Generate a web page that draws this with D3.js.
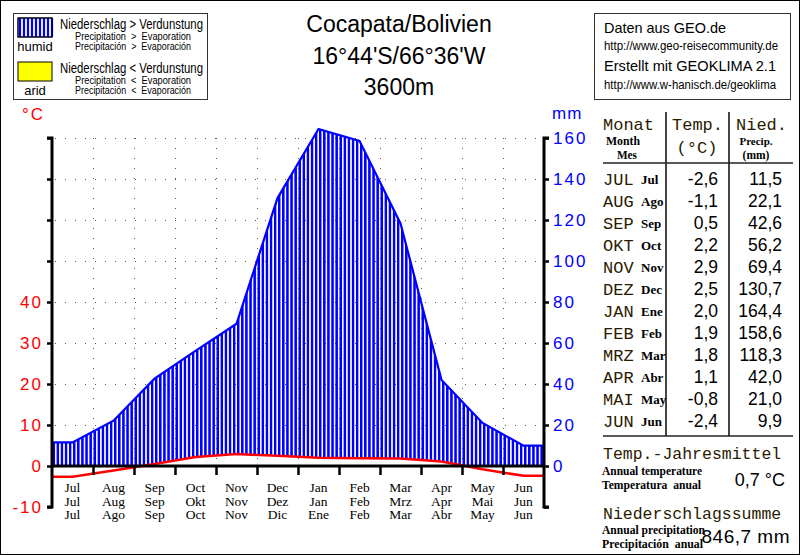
<!DOCTYPE html>
<html><head><meta charset="utf-8">
<script src="https://cdn.jsdelivr.net/npm/d3@7"></script>
<style>body{margin:0;background:#fff}svg{display:block}</style>
</head><body>
<svg id="c" width="800" height="555"></svg>
<script>
// ---- data ----
const monthsEN = ["Jul","Aug","Sep","Oct","Nov","Dec","Jan","Feb","Mar","Apr","May","Jun"];
const monthsDE = ["Jul","Aug","Sep","Okt","Nov","Dez","Jan","Feb","Mrz","Apr","Mai","Jun"];
const monthsES = ["Jul","Ago","Sep","Oct","Nov","Dic","Ene","Feb","Mar","Abr","May","Jun"];
const tableDE = ["JUL","AUG","SEP","OKT","NOV","DEZ","JAN","FEB","MRZ","APR","MAI","JUN"];
const tableES = ["Jul","Ago","Sep","Oct","Nov","Dec","Ene","Feb","Mar","Abr","May","Jun"];
const temperature = [-2.6,-1.1,0.5,2.2,2.9,2.5,2.0,1.9,1.8,1.1,-0.8,-2.4];
const precipitation = [11.5,22.1,42.6,56.2,69.4,130.7,164.4,158.6,118.3,42.0,21.0,9.9];
const tempTicks = [-10,0,10,20,30,40];
const precipTicks = [0,20,40,60,80,100,120,140,160];
const titleLines = ["Cocapata/Bolivien","16°44'S/66°36'W","3600m"];
const annualTemp = "0,7 °C";
const annualPrecip = "846,7 mm";

const fmt = v => v.toFixed(1).replace(".", ",");
const svg = d3.select("#c");
const BLUE = "#0000ff", RED = "#ff0000";
const SANS = "'Liberation Sans', Arial, sans-serif";
const SERIF = "'Liberation Serif', 'Times New Roman', serif";
const MONO = "'Liberation Mono', 'Courier New', monospace";

// outer border
svg.append("rect").attr("x",0.5).attr("y",0.5).attr("width",799).attr("height",554)
  .attr("fill","#fff").attr("stroke","#000");

// scales
const x = d3.scaleLinear().domain([0,12]).range([52,544]);
const yT = d3.scaleLinear().domain([-10,80]).range([507,138]);
const yP = d3.scaleLinear().domain([-20,160]).range([507,138]);

// extended series: left edge, month centres, right edge
const ext = arr => [{i:0,v:arr[0]}].concat(arr.map((v,i)=>({i:i+0.5,v})), [{i:12,v:arr[11]}]);
const tExt = ext(temperature), pExt = ext(precipitation);

// grid
const grid = svg.append("g").attr("stroke","#555").attr("stroke-width",1).attr("stroke-dasharray","1,9");
d3.range(10,81,10).forEach(t=>{
  grid.append("line").attr("x1",x(0)+3).attr("x2",x(12)).attr("y1",yT(t)+0.5).attr("y2",yT(t)+0.5);
});
d3.range(1,12).forEach(m=>{
  grid.append("line").attr("x1",x(m)+0.5).attr("x2",x(m)+0.5).attr("y1",yT(80)).attr("y2",yT(0));
});

// hatch pattern (10 stripes per month)
const period = (x(1)-x(0))/10;
const defs = svg.append("defs");
const pat = defs.append("pattern").attr("id","hatch").attr("patternUnits","userSpaceOnUse")
  .attr("x",x(0)+0.5).attr("y",0).attr("width",period).attr("height",10);
pat.append("rect").attr("x",0).attr("y",0).attr("width",2.5).attr("height",10).attr("fill",BLUE);
defs.append("clipPath").attr("id","above0").append("rect")
  .attr("x",x(0)).attr("y",0).attr("width",x(12)-x(0)).attr("height",yT(0));

const combined = tExt.map((d,k)=>({i:d.i,t:d.v,p:pExt[k].v}));
const area = d3.area().x(d=>x(d.i)).y0(d=>yT(d.t)).y1(d=>yP(d.p));
svg.append("path").datum(combined).attr("d",area).attr("fill","url(#hatch)").attr("clip-path","url(#above0)");

// precipitation line
svg.append("path").datum(pExt).attr("d",d3.line().x(d=>x(d.i)).y(d=>yP(d.v)))
  .attr("fill","none").attr("stroke",BLUE).attr("stroke-width",2.2);
// temperature line
svg.append("path").datum(tExt).attr("d",d3.line().x(d=>x(d.i)).y(d=>yT(d.v)))
  .attr("fill","none").attr("stroke",RED).attr("stroke-width",2.5);

// axes
const leftAx = svg.append("g").attr("transform",`translate(${x(0)},0)`)
  .call(d3.axisLeft(yT).tickValues(d3.range(-10,81,10)).tickSize(5).tickFormat(""));
const rightAx = svg.append("g").attr("transform",`translate(${x(12)},0)`)
  .call(d3.axisRight(yP).tickValues(d3.range(-20,161,20)).tickSize(5).tickFormat(""));
const botAx = svg.append("g").attr("transform",`translate(0,${yT(0)})`)
  .call(d3.axisBottom(x).tickValues(d3.range(1,12)).tickSize(9).tickFormat(""));
[leftAx,rightAx,botAx].forEach(g=>{
  g.select(".domain").attr("stroke","#000").attr("stroke-width",3);
  g.selectAll(".tick line").attr("stroke","#000").attr("stroke-width",2.5);
});
leftAx.select(".domain").attr("d",`M-5,${yT(-10)}H0V${yT(80)}H-5`);
rightAx.select(".domain").attr("d",`M5,${yP(-20)}H0V${yP(160)}H5`);
botAx.select(".domain").attr("d",`M${x(0)},0H${x(12)}`);

// axis labels
svg.append("g").selectAll("text").data(tempTicks).join("text")
  .attr("x",43).attr("y",d=>yT(d)+6).attr("text-anchor","end")
  .attr("font-family",SANS).attr("font-size",17).attr("letter-spacing",2).attr("fill",RED)
  .text(d=>d);
svg.append("g").selectAll("text").data(precipTicks).join("text")
  .attr("x",553).attr("y",d=>yP(d)+6).attr("text-anchor","start")
  .attr("font-family",SANS).attr("font-size",17).attr("letter-spacing",2).attr("fill",BLUE)
  .text(d=>d);
svg.append("text").attr("x",22).attr("y",120).attr("font-family",SANS).attr("font-size",17)
  .attr("fill",RED).text("°C").attr("letter-spacing",2);
svg.append("text").attr("x",552).attr("y",119).attr("font-family",SANS).attr("font-size",17)
  .attr("fill",BLUE).text("mm").attr("letter-spacing",1);

// month labels
[monthsEN,monthsDE,monthsES].forEach((arr,r)=>{
  svg.append("g").selectAll("text").data(arr).join("text")
    .attr("x",(d,i)=>x(i+0.5)).attr("y",492+r*13.5).attr("text-anchor","middle")
    .attr("font-family",SERIF).attr("font-size",13.5).attr("fill","#000").text(d=>d);
});

// title
svg.append("g").selectAll("text").data(titleLines).join("text")
  .attr("x",399).attr("y",(d,i)=>32+i*31.5).attr("text-anchor","middle")
  .attr("font-family",SANS).attr("font-size",23).attr("fill","#000").text(d=>d);

// legend box
const lg = svg.append("g");
lg.append("rect").attr("x",13.5).attr("y",13.5).attr("width",194).attr("height",86)
  .attr("fill","#fff").attr("stroke","#333").attr("stroke-width",1);
lg.append("rect").attr("x",18).attr("y",18).attr("width",34).attr("height",19)
  .attr("fill","#fff").attr("stroke","#000");
lg.selectAll("line.h").data(d3.range(0,9)).join("line")
  .attr("x1",d=>20+d*4).attr("x2",d=>20+d*4).attr("y1",18).attr("y2",37)
  .attr("stroke",BLUE).attr("stroke-width",2.2);
lg.append("rect").attr("x",18).attr("y",18).attr("width",34).attr("height",19)
  .attr("fill","none").attr("stroke","#000");
lg.append("rect").attr("x",18).attr("y",62).attr("width",34).attr("height",19)
  .attr("fill","#ffff00").attr("stroke","#000");
lg.append("text").attr("x",35).attr("y",51).attr("text-anchor","middle").attr("font-family",SANS)
  .attr("font-size",13).text("humid");
lg.append("text").attr("x",35).attr("y",95).attr("text-anchor","middle").attr("font-family",SANS)
  .attr("font-size",13).text("arid");
const legRows = [
  {y:29, big:"Niederschlag > Verdunstung", s1:"Precipitation  >  Evaporation", s2:"Precipitación  >  Evaporación"},
  {y:73, big:"Niederschlag < Verdunstung", s1:"Precipitation  <  Evaporation", s2:"Precipitación  <  Evaporación"}
];
legRows.forEach(r=>{
  lg.append("text").attr("x",60).attr("y",r.y).attr("font-family",SANS).attr("font-size",14)
    .attr("textLength",143).attr("lengthAdjust","spacingAndGlyphs").text(r.big);
  lg.append("text").attr("x",75).attr("y",r.y+11).attr("font-family",SANS).attr("font-size",10)
    .style("white-space","pre").attr("textLength",116).attr("lengthAdjust","spacingAndGlyphs").text(r.s1);
  lg.append("text").attr("x",75).attr("y",r.y+21).attr("font-family",SANS).attr("font-size",10)
    .style("white-space","pre").attr("textLength",116).attr("lengthAdjust","spacingAndGlyphs").text(r.s2);
});

// info box
const ib = svg.append("g");
ib.append("rect").attr("x",594.5).attr("y",13.5).attr("width",196).attr("height",86)
  .attr("fill","#fff").attr("stroke","#333");
const infoLines = [
  {t:"Daten aus GEO.de", y:33, s:14.5, w:122},
  {t:"http://www.geo-reisecommunity.de", y:50, s:12, w:174},
  {t:"Erstellt mit GEOKLIMA 2.1", y:71, s:14.5, w:172},
  {t:"http://www.w-hanisch.de/geoklima", y:89, s:12, w:172}
];
ib.selectAll("text").data(infoLines).join("text").attr("x",604).attr("y",d=>d.y)
  .attr("font-family",SANS).attr("font-size",d=>d.s).attr("textLength",d=>d.w)
  .attr("lengthAdjust","spacingAndGlyphs").text(d=>d.t);

// data table
const tb = svg.append("g");
tb.append("line").attr("x1",666).attr("x2",666).attr("y1",112).attr("y2",436).attr("stroke","#444").attr("stroke-width",2);
tb.append("line").attr("x1",729).attr("x2",729).attr("y1",112).attr("y2",436).attr("stroke","#444").attr("stroke-width",2);
tb.append("line").attr("x1",603).attr("x2",793).attr("y1",163).attr("y2",163).attr("stroke","#222").attr("stroke-width",1.5);
tb.append("line").attr("x1",603).attr("x2",793).attr("y1",436).attr("y2",436).attr("stroke","#222").attr("stroke-width",1.5);
const hdrColor = "#2a1a00";
const serifLabel = (xx,yy,t,w,anchor) => {
  const el = tb.append("text").attr("x",xx).attr("y",yy).attr("font-family",SERIF)
    .attr("font-size",12.5).attr("font-weight","bold").style("white-space","pre")
    .attr("text-anchor",anchor||"start").text(t);
  if (w) el.attr("textLength",w).attr("lengthAdjust","spacingAndGlyphs");
  return el;
};
tb.append("text").attr("x",603).attr("y",130).attr("font-family",MONO).attr("font-size",17).attr("fill",hdrColor).text("Monat");
serifLabel(623,145,"Month",34,"middle");
serifLabel(627,159,"Mes",20,"middle");
tb.append("text").attr("x",672).attr("y",130).attr("font-family",MONO).attr("font-size",17).attr("fill",hdrColor).text("Temp.");
tb.append("text").attr("x",697).attr("y",153).attr("text-anchor","middle").attr("font-family",MONO).attr("font-size",17).attr("fill",hdrColor).text("(°C)");
tb.append("text").attr("x",736).attr("y",130).attr("font-family",MONO).attr("font-size",17).attr("fill",hdrColor).text("Nied.");
tb.append("text").attr("x",756).attr("y",145).attr("text-anchor","middle").attr("font-family",SERIF).attr("font-size",11).attr("font-weight","bold").text("Precip.");
tb.append("text").attr("x",756).attr("y",159).attr("text-anchor","middle").attr("font-family",SERIF).attr("font-size",11.5).attr("font-weight","bold").text("(mm)");
const rowY = i => 185 + i*22;
tb.append("g").selectAll("text").data(tableDE).join("text").attr("x",603).attr("y",(d,i)=>rowY(i))
  .attr("font-family",MONO).attr("font-size",17).attr("fill",hdrColor).text(d=>d);
tb.append("g").selectAll("text").data(tableES).join("text").attr("x",641).attr("y",(d,i)=>rowY(i)-1)
  .attr("font-family",SERIF).attr("font-size",13).attr("font-weight","bold").text(d=>d);
tb.append("g").selectAll("text").data(temperature).join("text").attr("x",718).attr("y",(d,i)=>rowY(i))
  .attr("text-anchor","end").attr("font-family",SANS).attr("font-size",17.5).text(d=>fmt(d));
tb.append("g").selectAll("text").data(precipitation).join("text").attr("x",782).attr("y",(d,i)=>rowY(i))
  .attr("text-anchor","end").attr("font-family",SANS).attr("font-size",17.5).text(d=>fmt(d));

// annual summary
tb.append("text").attr("x",603).attr("y",459).attr("font-family",MONO).attr("font-size",16.5).attr("fill",hdrColor).text("Temp.-Jahresmittel");
serifLabel(602,475,"Annual temperature",100);
serifLabel(602,489,"Temperatura  anual",99);
tb.append("text").attr("x",785).attr("y",486).attr("text-anchor","end").attr("font-family",SANS).attr("font-size",18).text(annualTemp);
tb.append("text").attr("x",603).attr("y",519).attr("font-family",MONO).attr("font-size",16.5).attr("fill",hdrColor).text("Niederschlagssumme");
serifLabel(602,534,"Annual precipitation",103);
serifLabel(602,548,"Precipitación  anual",101);
tb.append("text").attr("x",790).attr("y",543).attr("text-anchor","end").attr("font-family",SANS).attr("font-size",19).attr("letter-spacing",0.5).text(annualPrecip);
</script>
</body></html>
